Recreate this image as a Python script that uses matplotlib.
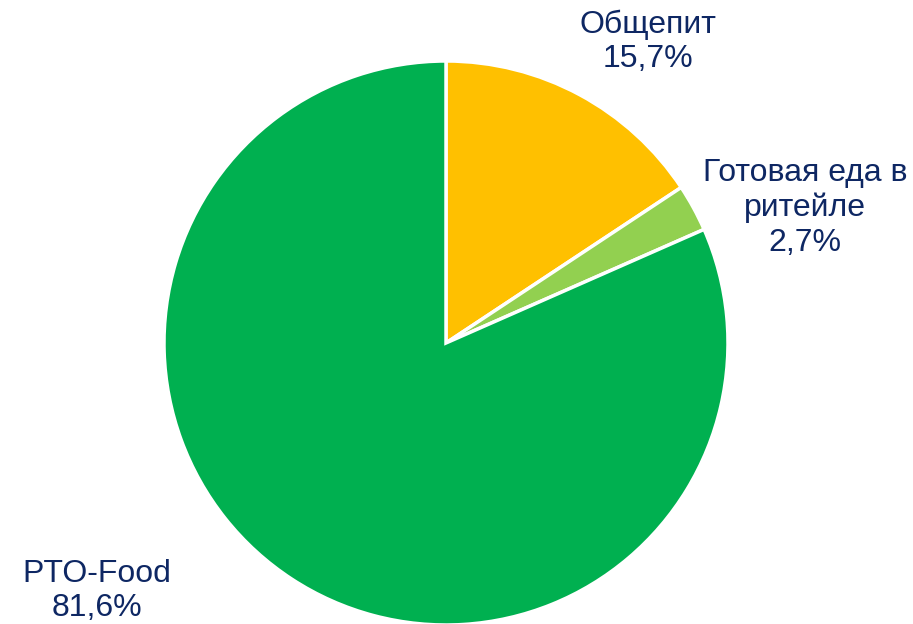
import matplotlib.pyplot as plt

# Доли сегментов рынка
categories = ["Общепит", "Готовая еда в\nритейле", "PTO-Food"]
values = [15.7, 2.7, 81.6]
colors = ["#FFC000", "#92D050", "#00B050"]

plt.rcParams['font.family'] = ['Liberation Sans', 'DejaVu Sans']

fig = plt.figure(figsize=(9.13, 6.24), dpi=100)
ax = fig.add_axes([0, 0, 1, 1])

ax.pie(values, colors=colors, startangle=90, counterclock=False,
       center=(446, 281), radius=282, frame=True,
       wedgeprops=dict(edgecolor='white', linewidth=2.5))
ax.set_xlim(0, 913)
ax.set_ylim(0, 624)
ax.axis('off')

label_pos = [(648, 582), (805, 416), (97, 33)]
for cat, val, (x, y) in zip(categories, values, label_pos):
    txt = f"{cat}\n{val:.1f}%".replace('.', ',')
    ax.text(x, y, txt, ha='center', va='center', fontsize=23,
            color='#0E2763', linespacing=1.2)

fig.savefig("out.png", dpi=100)
